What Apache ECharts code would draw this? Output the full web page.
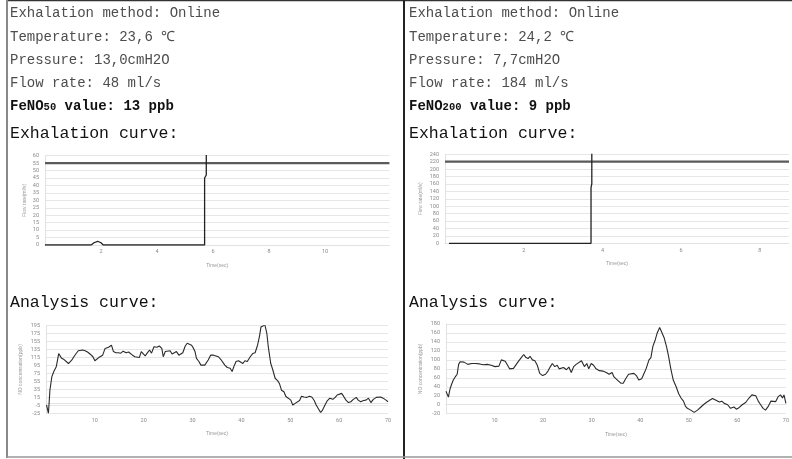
<!DOCTYPE html>
<html><head><meta charset="utf-8">
<script src="https://cdn.jsdelivr.net/npm/echarts@6/dist/echarts.min.js"></script>
<style>html,body{margin:0;padding:0;background:#fff}#c{width:792px;height:459px}</style>
</head><body><div id="c"></div>
<script>
// ---- text content ----
const infoLeft = ['Exhalation method: Online', 'Temperature: 23,6 \u2103', 'Pressure: 13,0cmH2O', 'Flow rate: 48 ml/s'];
const infoRight = ['Exhalation method: Online', 'Temperature: 24,2 \u2103', 'Pressure: 7,7cmH2O', 'Flow rate: 184 ml/s'];
const fenoLeft = ['FeNO', '50', ' value: 13 ppb'];
const fenoRight = ['FeNO', '200', ' value: 9 ppb'];
const titleExh = 'Exhalation curve:';
const titleAna = 'Analysis curve:';

// ---- axis scales / tick labels ----
const exhLeftY = {min: 0, max: 60, step: 5};
const exhRightY = {min: 0, max: 240, step: 20};
const anaLeftY = {min: -25, max: 195, step: 20};
const anaRightY = {min: -20, max: 180, step: 20};
const exhLeftX = {min: 0, max: 12.3, step: 2, lastLabel: 10};
const exhRightX = {min: 0, max: 8.74, step: 2, lastLabel: 8};
const anaX = {min: 0, max: 70, step: 10, lastLabel: 70};

// ---- exhalation curves [time s, value] ----
const exhLeftFlow = [[0,0],[1.65,0],[1.75,1.5],[1.88,2.5],[2.0,1.5],[2.08,0],[5.7,0],[5.7,45],[5.76,47],[5.76,62]];
const exhLeftTarget = [[0,55],[12.3,55]];
const exhRightFlow = [[0.1,0],[3.71,0],[3.71,150],[3.73,160],[3.73,245]];
const exhRightTarget = [[0,220],[8.74,220]];

// ---- analysis curves [time s, ppb] ----
const anaLeft = [[0.1,-4],[0.5,-25],[0.8,33],[1.2,67],[1.6,80],[2.1,92],[2.3,105],[2.6,125],[2.9,121],[3.2,113],[3.7,110],[4.1,107],[4.6,100],[4.9,105],[5.3,109],[5.7,117],[6.1,124],[6.6,132],[7.0,136],[7.5,134],[8.0,132],[8.5,129],[9.0,124],[9.6,117],[10.0,107],[10.4,110],[10.8,115],[11.2,117],[11.6,121],[12.1,138],[12.4,136],[12.8,141],[13.1,144],[13.4,146],[13.8,130],[14.3,127],[14.8,127],[15.3,126],[15.8,131],[16.4,127],[16.9,129],[17.3,126],[17.7,121],[18.2,117],[18.6,121],[19.1,115],[19.5,130],[19.9,132],[20.3,119],[20.7,126],[21.2,134],[21.6,126],[22.1,142],[22.7,141],[23.2,144],[23.7,138],[24.0,117],[24.4,130],[24.8,127],[25.4,132],[25.8,124],[26.2,127],[26.7,130],[27.2,121],[27.6,119],[28.0,127],[28.5,144],[28.9,151],[29.3,155],[29.8,146],[30.2,138],[30.5,130],[30.8,113],[31.3,105],[31.7,96],[32.1,96],[32.5,96],[32.9,95],[33.2,109],[33.7,121],[34.3,121],[34.8,119],[35.3,117],[35.8,110],[36.2,105],[36.6,96],[37.1,90],[37.7,88],[38.1,80],[38.5,94],[38.9,105],[39.4,107],[39.8,105],[40.3,100],[40.7,107],[41.2,105],[41.8,117],[42.3,125],[42.8,127],[43.3,146],[43.7,169],[44.0,192],[44.3,197],[44.8,197],[45.2,176],[45.5,142],[46.0,100],[46.4,85],[46.9,63],[47.4,57],[47.8,49],[48.2,33],[48.7,29],[49.1,17],[49.6,13],[50.1,8],[50.5,-4],[51.0,0],[51.4,2],[51.9,7],[52.3,18],[52.8,16],[53.4,15],[53.9,18],[54.4,16],[54.9,7],[55.3,-4],[55.7,-8],[56.2,-23],[56.6,-17],[57.1,-4],[57.6,7],[58.1,13],[58.7,10],[59.2,15],[59.6,21],[60.0,21],[60.5,25],[60.9,18],[61.4,8],[61.9,2],[62.4,4],[62.9,10],[63.5,15],[63.9,8],[64.4,4],[65.0,7],[65.5,8],[66.0,13],[66.5,2],[67.0,10],[67.6,15],[68.0,13],[68.5,16],[69.0,13],[69.6,8],[70.0,4]];
const anaRight = [[0,30],[0.3,33],[0.5,17],[0.8,34],[1.1,44],[1.5,55],[1.9,62],[2.3,68],[2.6,90],[2.9,96],[3.3,94],[3.7,95],[4.1,92],[4.5,90],[4.9,93],[5.3,92],[5.7,94],[6.1,92],[6.5,95],[6.9,91],[7.3,93],[7.7,89],[8.1,88],[8.5,90],[8.9,86],[9.3,88],[9.7,84],[10.1,85],[10.5,83],[10.9,86],[11.4,100],[11.8,96],[12.2,97],[12.6,94],[13.1,80],[13.5,78],[13.9,81],[14.3,79],[14.8,95],[15.5,105],[16.0,112],[16.4,106],[16.9,103],[17.3,108],[17.8,100],[18.3,98],[18.8,88],[19.3,70],[19.9,65],[20.5,68],[21.0,75],[21.5,85],[21.9,92],[22.4,85],[22.9,88],[23.3,80],[23.7,78],[24.2,83],[24.8,78],[25.3,84],[25.8,72],[26.3,85],[26.8,90],[27.2,88],[27.9,98],[28.5,85],[29.0,92],[29.4,80],[29.9,92],[30.4,88],[30.9,80],[31.6,76],[32.3,75],[33.0,72],[33.6,68],[34.2,72],[34.6,62],[35.3,55],[36.0,48],[36.5,48],[37.0,58],[37.6,68],[38.0,72],[38.7,70],[39.2,65],[39.7,55],[40.3,58],[40.8,70],[41.2,80],[41.8,100],[42.2,105],[42.6,130],[43.1,145],[43.5,160],[44.0,172],[44.4,168],[44.9,150],[45.4,130],[45.8,110],[46.3,80],[46.8,55],[47.4,40],[47.9,25],[48.4,15],[48.9,8],[49.3,-3],[49.7,-8],[50.4,-12],[51.1,-17],[51.8,-12],[52.5,-5],[53.0,0],[53.6,5],[54.3,10],[54.9,14],[55.6,10],[56.3,6],[56.8,8],[57.3,3],[58.0,0],[58.6,-8],[59.3,-5],[59.8,-10],[60.4,-6],[61.0,0],[61.7,5],[62.4,15],[63.0,22],[63.4,18],[63.8,20],[64.3,8],[64.8,0],[65.3,-8],[65.8,-12],[66.4,-3],[66.9,8],[67.3,10],[67.9,7],[68.4,18],[68.9,22],[69.3,15],[69.6,22],[70.0,3]];

const chart = echarts.init(document.getElementById('c'));
const MONO = '"Liberation Mono", "DejaVu Sans Mono", monospace';

function txt(x, y, text, size, color, weight) {
  return {type: 'text', x: x, y: y, silent: true,
    style: {text: text, fill: color, font: (weight || 'normal') + ' ' + size + 'px ' + MONO, verticalAlign: 'middle'}};
}
function fenoTxt(x, y, parts) {
  return {type: 'text', x: x, y: y, silent: true,
    style: {text: '{a|' + parts[0] + '}{b|' + parts[1] + '}{a|' + parts[2] + '}', verticalAlign: 'middle',
      rich: {a: {fontFamily: MONO, fontWeight: 'bold', fontSize: 14, fill: '#111', color: '#111'},
             b: {fontFamily: MONO, fontWeight: 'bold', fontSize: 10.5, fill: '#111', color: '#111', verticalAlign: 'bottom', padding: [3, 0, 0, 0]}}}};
}
const lineYs = [13, 37, 60, 83];
const graphics = [];
[[10, infoLeft, fenoLeft], [409, infoRight, fenoRight]].forEach(function (p) {
  p[1].forEach(function (s, i) { graphics.push(txt(p[0], lineYs[i], s, 14, '#4d4d4d')); });
  graphics.push(fenoTxt(p[0], 106, p[2]));
  graphics.push(txt(p[0], 134, titleExh, 16.5, '#111'));
  graphics.push(txt(p[0], 303, titleAna, 16.5, '#111'));
});
// panel borders
graphics.push({type: 'line', silent: true, shape: {x1: 7, y1: 0.5, x2: 792, y2: 0.5}, style: {stroke: '#333', lineWidth: 1.5}});
graphics.push({type: 'line', silent: true, shape: {x1: 7, y1: 0, x2: 7, y2: 458}, style: {stroke: '#888', lineWidth: 2}});
graphics.push({type: 'line', silent: true, shape: {x1: 404, y1: 0, x2: 404, y2: 459}, style: {stroke: '#222', lineWidth: 2}});
graphics.push({type: 'line', silent: true, shape: {x1: 7, y1: 457, x2: 792, y2: 457}, style: {stroke: '#999', lineWidth: 1.5}});

const grids = [
  {left: 45, width: 344.4, top: 155.7, height: 89.3},
  {left: 445, width: 347, top: 154.3, height: 89},
  {left: 46, width: 342, top: 325.7, height: 87.6},
  {left: 446, width: 341, top: 324, height: 89.7}
];
const labelStyle = {fontSize: 5.5, color: '#8a8a8a', fontFamily: 'Roboto, sans-serif'};
function xAxis(i, sc, name, gap) {
  return {type: 'value', gridIndex: i, min: sc.min, max: sc.max, interval: sc.step,
    name: name, nameLocation: 'middle', nameGap: gap, nameTextStyle: {fontSize: 5, color: '#999'},
    axisLine: {show: true, lineStyle: {color: '#e2e2e2'}}, axisTick: {show: false}, splitLine: {show: false},
    axisLabel: Object.assign({margin: 4, formatter: function (v) { return (v > 0 && v <= sc.lastLabel + 1e-9) ? String(v) : ''; }}, labelStyle)};
}
function yAxis(i, sc, name, gap) {
  return {type: 'value', gridIndex: i, min: sc.min, max: sc.max, interval: sc.step,
    name: name, nameLocation: 'middle', nameGap: gap, nameTextStyle: {fontSize: 5, color: '#999'},
    axisLine: {show: true, lineStyle: {color: '#e2e2e2'}}, axisTick: {show: false},
    splitLine: {show: true, lineStyle: {color: '#e6e6e6', width: 1}},
    axisLabel: Object.assign({margin: 6}, labelStyle)};
}
function line(i, data, color, width) {
  return {type: 'line', xAxisIndex: i, yAxisIndex: i, data: data, showSymbol: false, symbol: 'none',
    lineStyle: {color: color, width: width}, silent: true, animation: false};
}

chart.setOption({
  animation: false,
  graphic: graphics,
  grid: grids,
  xAxis: [xAxis(0, exhLeftX, 'Time(sec)', 18), xAxis(1, exhRightX, 'Time(sec)', 18), xAxis(2, anaX, 'Time(sec)', 18), xAxis(3, anaX, 'Time(sec)', 18)],
  yAxis: [yAxis(0, exhLeftY, 'Flow rate(ml/s)', 18), yAxis(1, exhRightY, 'Flow rate(ml/s)', 22), yAxis(2, anaLeftY, 'NO concentration(ppb)', 23), yAxis(3, anaRightY, 'NO concentration(ppb)', 23)],
  series: [
    line(0, exhLeftTarget, '#5a5a5a', 2.2),
    line(0, exhLeftFlow, '#222', 1.3),
    line(1, exhRightTarget, '#5a5a5a', 2.2),
    line(1, exhRightFlow, '#222', 1.3),
    line(2, anaLeft, '#2a2a2a', 1.1),
    line(3, anaRight, '#2a2a2a', 1.1)
  ]
});
</script></body></html>
